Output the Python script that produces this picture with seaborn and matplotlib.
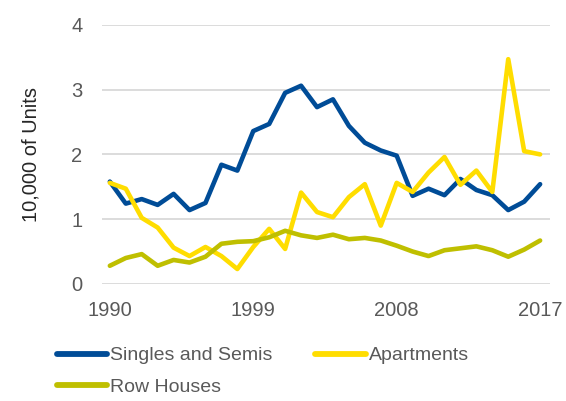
import matplotlib
matplotlib.use("Agg")
import matplotlib.pyplot as plt
import seaborn as sns
import pandas as pd

years = list(range(1990, 2018))
singles = [1.58, 1.24, 1.31, 1.22, 1.39, 1.14, 1.25, 1.84, 1.75, 2.36,
           2.47, 2.95, 3.06, 2.73, 2.85, 2.44, 2.18, 2.06, 1.98, 1.36,
           1.47, 1.37, 1.62, 1.45, 1.37, 1.14, 1.27, 1.54]
apartments = [1.56, 1.47, 1.02, 0.87, 0.56, 0.43, 0.57, 0.43, 0.23, 0.57,
              0.85, 0.54, 1.41, 1.11, 1.03, 1.34, 1.54, 0.90, 1.56, 1.42,
              1.72, 1.96, 1.53, 1.75, 1.42, 3.47, 2.05, 2.00]
row_houses = [0.28, 0.40, 0.46, 0.28, 0.37, 0.33, 0.42, 0.62, 0.65, 0.66,
              0.72, 0.82, 0.75, 0.71, 0.76, 0.69, 0.71, 0.67, 0.59, 0.50,
              0.43, 0.52, 0.55, 0.58, 0.52, 0.42, 0.53, 0.67]
series_names = ["Singles and Semis", "Apartments", "Row Houses"]
colors = ["#004C97", "#FFDD00", "#BFBF00"]
x_ticks = [1990, 1999, 2008, 2017]
y_ticks = [0, 1, 2, 3, 4]

df = pd.DataFrame({
    "Year": years * 3,
    "Value": singles + apartments + row_houses,
    "Series": [s for s in series_names for _ in years],
})

sns.set_style("white")
plt.rcParams["font.family"] = ["Liberation Sans", "DejaVu Sans"]

fig = plt.figure(figsize=(5.66, 4.01), dpi=100)
ax = fig.add_axes([0.180, 0.292, 0.792, 0.646])

for y in y_ticks:
    ax.axhline(y, color="#D9D9D9", lw=1.3, zorder=0)

sns.lineplot(data=df, x="Year", y="Value", hue="Series", hue_order=series_names,
             palette=colors, linewidth=3.3, ax=ax, legend=True)

ax.set_xlim(1989.5, 2017.63)
ax.set_ylim(0, 4)
ax.set_xticks(x_ticks)
ax.set_yticks(y_ticks)
ax.tick_params(axis="y", length=0, labelsize=14.5, labelcolor="#595959", pad=14)
ax.tick_params(axis="x", length=0, labelsize=14.5, labelcolor="#595959", pad=12)
ax.set_xlabel("")
ax.set_ylabel("10,000 of Units", fontsize=14.5, color="#262626", labelpad=22)
for s in ax.spines.values():
    s.set_visible(False)

# column-major fill: put Row Houses under Singles, Apartments in column 2
handles, labels = ax.get_legend_handles_labels()
order = [0, 2, 1]
leg = ax.legend([handles[i] for i in order], [labels[i] for i in order],
                loc="upper left", bbox_to_anchor=(-0.131, -0.19), ncol=2, frameon=False,
                fontsize=14, handlelength=2.6, handletextpad=0.15, columnspacing=2.2,
                labelspacing=0.7, borderaxespad=0.3)
for t in leg.get_texts():
    t.set_color("#595959")
for h in leg.get_lines():
    h.set_linewidth(4.2)
    h.set_solid_capstyle("round")

fig.savefig("out.png", dpi=100)
